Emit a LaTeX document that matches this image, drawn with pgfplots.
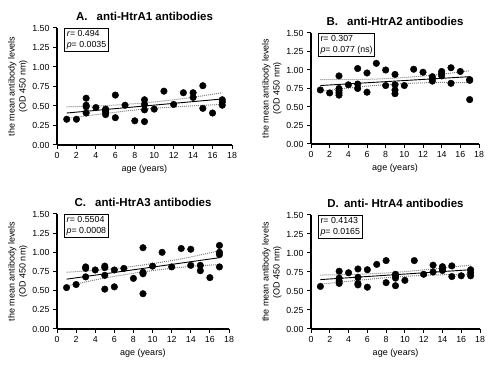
\documentclass[border=0pt]{standalone}
\usepackage{pgfplots}
\pgfplotsset{compat=1.18}
\usepackage{fontspec}
\setmainfont{Liberation Sans}

\pgfplotsset{
 panel/.style={
  scale only axis, anchor=south west,
  xmin=0, xmax=18, ymin=0, ymax=1.5,
  axis lines*=left, axis line style={line width=1.1pt},
  xtick={0,2,4,6,8,10,12,14,16,18},
  ytick={0,0.25,0.5,0.75,1,1.25,1.5},
  tick style={line width=1pt, black}, tick align=outside, major tick length=4pt,
  yticklabel style={/pgf/number format/.cd, fixed, fixed zerofill, precision=2},
  /pgf/number format/assume math mode=true,
  tick label style={font=\fontsize{8.8}{10}\selectfont},
  label style={font=\fontsize{9}{11}\selectfont},
  xlabel style={yshift=1pt},
  title style={font=\bfseries\fontsize{11.5}{13}\selectfont, yshift=-2.5pt},
  xlabel={age (years)},
  ylabel={the mean antibody levels\\(OD 450 nm)},
  ylabel style={align=center, yshift=-2pt},
  clip=false,
 },
 dots/.style={only marks, mark=*, mark size=3.3pt, black},
 fitl/.style={black, line width=0.9pt, no marks},
 band/.style={gray, densely dotted, line width=1pt, no marks, smooth},
}
\newcommand{\statbox}[2]{\node[draw, line width=1pt, anchor=north west, align=left, inner sep=2.3pt, font=\fontsize{8.8}{10.5}\selectfont, fill=white] at (rel axis cs:0.04,1) {#1\\#2};}

\begin{document}
\begin{tikzpicture}
\path[use as bounding box] (0pt,0pt) rectangle (500pt,366pt);

% ---------- A ----------
\begin{axis}[panel, at={(57pt,221pt)}, width=175pt, height=117pt,
  title={A.\hspace{6pt} anti-HtrA1 antibodies}]
\addplot[band] coordinates {(1,0.49)(5,0.505)(9,0.54)(13,0.595)(17,0.67)};
\addplot[band] coordinates {(1,0.34)(5,0.405)(9,0.46)(13,0.495)(17,0.52)};
\addplot[fitl] coordinates {(1,0.41)(17,0.59)};
\addplot[dots] coordinates {
(1,0.33)(2,0.33)(3,0.60)(3,0.51)(3,0.49)(3,0.41)(4,0.48)
(5,0.46)(5,0.44)(5,0.42)(5,0.39)(6,0.64)(6,0.35)(7,0.51)(8,0.31)
(9,0.58)(9,0.52)(9,0.45)(9,0.30)(10,0.46)(11,0.69)(12,0.52)(13,0.67)
(14,0.67)(14,0.61)(15,0.76)(15,0.47)(16,0.41)(17,0.58)(17,0.55)(17,0.51)};
\statbox{\textit{r}= 0.494}{\textit{p}= 0.0035}
\end{axis}

% ---------- B ----------
\begin{axis}[panel, at={(311pt,222pt)}, width=168pt, height=111pt,
  title={B.\hspace{6pt} anti-HtrA2 antibodies}]
\addplot[band] coordinates {(1,0.87)(5,0.87)(9,0.89)(13,0.93)(17,0.99)};
\addplot[band] coordinates {(1,0.71)(5,0.77)(9,0.81)(13,0.83)(17,0.83)};
\addplot[fitl] coordinates {(1,0.79)(17,0.91)};
\addplot[dots] coordinates {
(1,0.73)(2,0.69)(3,0.92)(3,0.75)(3,0.72)(3,0.69)(3,0.66)(4,0.80)
(5,1.02)(5,0.81)(5,0.75)(6,0.96)(6,0.70)(7,1.09)(8,1.00)(8,0.79)
(9,0.94)(9,0.80)(9,0.73)(9,0.68)(10,0.79)(11,1.01)(12,0.97)
(13,0.91)(13,0.88)(13,0.85)(14,0.98)(14,0.95)(14,0.92)
(15,1.03)(15,0.82)(16,0.98)(17,0.87)(17,0.86)(17,0.60)};
\statbox{r= 0.307}{\textit{p}= 0.077 (ns)}
\end{axis}

% ---------- C ----------
\begin{axis}[panel, at={(57pt,37pt)}, width=172pt, height=115pt,
  title={C.\hspace{6pt} anti-HtrA3 antibodies}]
\addplot[band] coordinates {(1,0.74)(5,0.775)(9,0.835)(13,0.915)(17,1.02)};
\addplot[band] coordinates {(1,0.56)(5,0.665)(9,0.745)(13,0.805)(17,0.84)};
\addplot[fitl] coordinates {(1,0.65)(17,0.93)};
\addplot[dots] coordinates {
(1,0.54)(2,0.58)(3,0.81)(3,0.79)(3,0.68)(4,0.77)
(5,0.82)(5,0.80)(5,0.70)(5,0.52)(6,0.77)(6,0.55)(7,0.79)(8,0.66)
(9,1.06)(9,0.74)(9,0.72)(9,0.46)(10,0.82)(11,1.00)(12,0.81)(13,1.05)
(14,1.04)(14,0.83)(15,0.83)(15,0.76)(16,0.67)
(17,1.09)(17,1.00)(17,0.97)(17,0.81)};
\statbox{\textit{r}= 0.5504}{\textit{p}= 0.0008}
\end{axis}

% ---------- D ----------
\begin{axis}[panel, at={(311pt,37pt)}, width=169pt, height=114pt,
  title={D.\hspace{2pt} anti- HtrA4 antibodies}]
\addplot[band] coordinates {(1,0.71)(5,0.72)(9,0.745)(13,0.79)(17,0.84)};
\addplot[band] coordinates {(1,0.59)(5,0.64)(9,0.685)(13,0.71)(17,0.72)};
\addplot[fitl] coordinates {(1,0.65)(17,0.78)};
\addplot[dots] coordinates {
(1,0.56)(3,0.76)(3,0.67)(3,0.63)(3,0.60)(4,0.74)
(5,0.79)(5,0.68)(5,0.60)(5,0.58)(6,0.78)(6,0.55)(7,0.85)(8,0.90)(8,0.61)
(9,0.72)(9,0.70)(9,0.67)(9,0.57)(10,0.64)(11,0.90)(12,0.72)
(13,0.84)(13,0.75)(14,0.82)(14,0.79)(14,0.77)(15,0.83)(15,0.69)(16,0.70)
(17,0.78)(17,0.74)(17,0.70)};
\statbox{r= 0.4143}{\textit{p}= 0.0165}
\end{axis}
\end{tikzpicture}
\end{document}
